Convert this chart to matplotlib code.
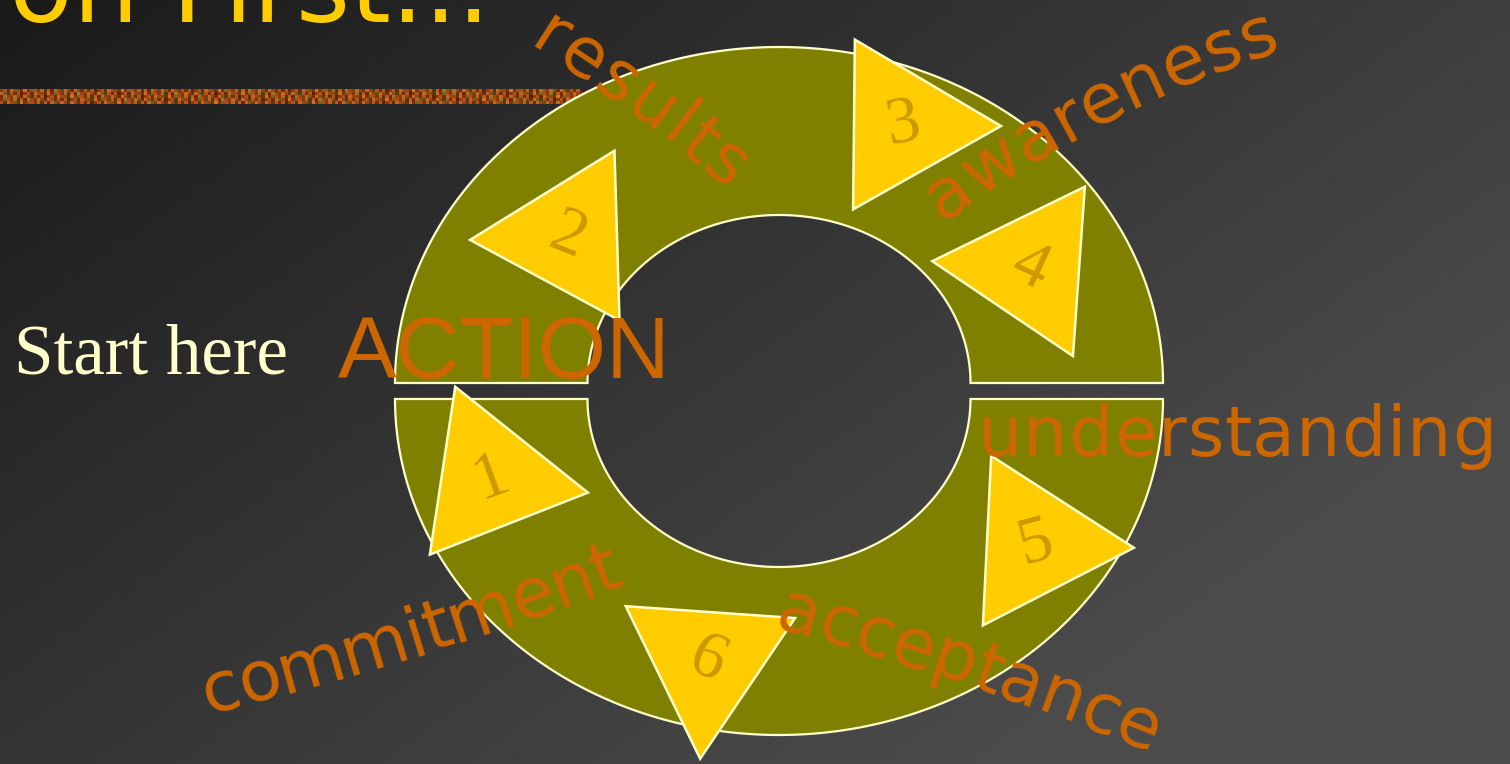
import numpy as np
import matplotlib
matplotlib.use('Agg')
import matplotlib.pyplot as plt
from matplotlib.patches import Polygon, RegularPolygon
from matplotlib.font_manager import FontProperties
from matplotlib.textpath import TextToPath

W, H, DPI = 1510, 764, 100
PX = 72 / DPI  # pixel size -> points

# text content
title_text = 'Action First...'
start_label = 'Start here'
center_word = 'ACTION'
step_labels = ['1', '2', '3', '4', '5', '6']
stage_words = ['results', 'awareness', 'understanding', 'acceptance', 'commitment']

# colours
ORANGE = '#CC6600'
OLIVE = '#808000'
CREAM = '#FFFFCC'
GOLD = '#FFCC00'
DARK_GOLD = '#CC9900'

# layout (pixels, y pointing down)
ring_cx, ring_cy, ring_gap = 779, 391, 8
outer_a, outer_b = 384, 336
inner_a, inner_b = 191.5, 168

tri_cx = [491, 568, 903, 1030, 1036, 707]
tri_cy = [478, 237, 125, 268, 543, 661]
tri_tip = [8.6, 178.3, 0.6, 184, 2.8, 94]
tri_r = 98
num_rot = [20, -22, 10, -25, 15, -25]

# baseline centre of first / last letter, and how much the path bends
word_p0 = [(540, 54), (960, 210), (1000, 456), (794, 634), (226, 709)]
word_p1 = [(713, 180), (1264, 55), (1474, 456), (1131, 746), (612, 589)]
word_bend = [7, 17, 0, 6, -6]
word_px = 70

stripe_colors = ['#8a3a10', '#b4501a', '#6b2a0c', '#c8641e', '#7a5a14', '#a03c12',
                 '#5c3a0a', '#d07020', '#8c2a14', '#6a6a18', '#b8481c', '#903010',
                 '#a86a1c', '#4e3a0c', '#c05a18', '#7c2010', '#9a7a20', '#b03a14',
                 '#5a5012', '#d0601c', '#8e4614', '#6e2c0e', '#b86c22', '#a0401a',
                 '#3e4a10', '#c84a16', '#742a12', '#aa5c16', '#602008']

fig = plt.figure(figsize=(W / DPI, H / DPI), dpi=DPI)
ax = fig.add_axes([0, 0, 1, 1])
ax.set_xlim(0, W)
ax.set_ylim(H, 0)
ax.axis('off')

# background gradient, dark top-left to grey right
gx, gy = np.meshgrid(np.linspace(0, 1, 300), np.linspace(0, 1, 150))
v = (26 + 49 * np.clip((0.7 * gx + 0.5 * gy) / 0.95, 0, 1)) / 255
ax.imshow(np.dstack([v, v, v]), extent=(0, W, H, 0), aspect='auto', zorder=0)

# textured strip under the title
rgb = np.array([matplotlib.colors.to_rgb(c) for c in stripe_colors])
tex = np.stack([np.roll(rgb, k * 7, axis=0) for k in range(5)])
tex = np.tile(tex, (1, 6, 1))
ax.imshow(tex, extent=(0, 583, 104, 89), aspect='auto', interpolation='nearest', zorder=1)

# two half rings
def half_ring(sign):
    cy = ring_cy + sign * ring_gap
    t = np.linspace(np.pi, 0, 200)
    ox = ring_cx + outer_a * np.cos(t)
    oy = cy + sign * outer_b * np.sin(t)
    ix = ring_cx + inner_a * np.cos(t[::-1])
    iy = cy + sign * inner_b * np.sin(t[::-1])
    pts = np.column_stack([np.r_[ox, ix], np.r_[oy, iy]])
    return Polygon(pts, closed=True, facecolor=OLIVE, edgecolor=CREAM, lw=1.6, zorder=2)

ax.add_patch(half_ring(-1))
ax.add_patch(half_ring(1))

# numbered triangles
for lab, cx, cy, tip, rot in zip(step_labels, tri_cx, tri_cy, tri_tip, num_rot):
    ax.add_patch(RegularPolygon((cx, cy), 3, radius=tri_r, orientation=np.radians(tip - 90),
                                facecolor=GOLD, edgecolor=CREAM, lw=1.8, zorder=3))
    ax.text(cx, cy, lab, ha='center', va='center', rotation=rot, rotation_mode='anchor',
            fontsize=68 * PX, color=DARK_GOLD, family='Liberation Serif', zorder=4)

# words placed letter by letter along a gently bent baseline
ttp = TextToPath()
fp = FontProperties(family='DejaVu Sans', size=word_px * PX)

def adv(s):
    return ttp.get_text_width_height_descent(s, fp, ismath=False)[0] if s else 0.0

def place_word(word, p0, p1, bend):
    x0, y0 = p0
    x1, y1 = p1
    ang = np.degrees(np.arctan2(-(y1 - y0), x1 - x0))
    dist = np.hypot(x1 - x0, y1 - y0)
    s = np.linspace(0, 1, 501)
    th = np.radians(bend * (0.5 - s))
    X = np.r_[0, np.cumsum(np.cos(th[1:]))] / 500
    Y = np.r_[0, np.cumsum(np.sin(th[1:]))] / 500
    scale = dist / np.hypot(X[-1], Y[-1])
    rot = np.radians(ang) - np.arctan2(Y[-1], X[-1])
    Xr = scale * (X * np.cos(rot) - Y * np.sin(rot))
    Yr = scale * (X * np.sin(rot) + Y * np.cos(rot))
    centers = np.array([(adv(word[:i]) + adv(word[:i + 1])) / 2 for i in range(len(word))])
    t = (centers - centers[0]) / (centers[-1] - centers[0])
    for ch, ti in zip(word, t):
        px = x0 + np.interp(ti, s, Xr)
        py = y0 - np.interp(ti, s, Yr)
        r = ang + bend * (0.5 - ti)
        ax.text(px, py, ch, ha='center', va='baseline', rotation=r, rotation_mode='anchor',
                fontproperties=fp, color=ORANGE, zorder=5)

for w, p0, p1, b in zip(stage_words, word_p0, word_p1, word_bend):
    place_word(w, p0, p1, b)

ax.text(338, 378, center_word, ha='left', va='baseline', fontsize=88 * PX,
        color=ORANGE, family='Liberation Sans', zorder=5)
ax.text(14, 374, start_label, ha='left', va='baseline', fontsize=71 * PX,
        color=CREAM, family='Liberation Serif', zorder=5)
ax.text(490, 22, title_text, ha='right', va='baseline', fontsize=104 * PX,
        color=GOLD, family='DejaVu Sans', zorder=5)

fig.savefig('out.png', dpi=DPI)
